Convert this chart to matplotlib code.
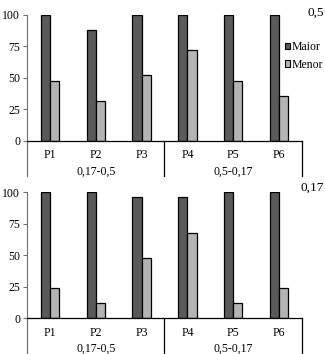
#!/usr/bin/env python3
from matplotlib import pyplot as plt
from matplotlib.patches import Patch
import numpy as np

plt.rcParams['font.family'] = ['Liberation Serif', 'DejaVu Serif']
plt.rcParams['font.size'] = 8.5

pontos = ['P1', 'P2', 'P3', 'P4', 'P5', 'P6']
grupos = ['0,17-0,5', '0,5-0,17']
series = ['Maior', 'Menor']
paineis = ['0,5', '0,17']

maior_05 = [100, 88, 100, 100, 100, 100]
menor_05 = [48, 32, 52, 72, 48, 36]
maior_017 = [100, 100, 96, 96, 100, 100]
menor_017 = [24, 12, 48, 68, 12, 24]

cores = ['#5a5a5a', '#b4b4b4']


def draw_panel(ax, maior, menor, titulo, ytit):
    x = np.arange(len(pontos))
    w = 0.2
    ax.bar(x - w / 2, maior, w, color=cores[0], edgecolor='black', linewidth=0.9)
    ax.bar(x + w / 2, menor, w, color=cores[1], edgecolor='black', linewidth=0.9)
    ax.set_xlim(-0.5, len(pontos) - 0.5)
    ax.set_ylim(0, 100)
    ax.set_yticks([0, 25, 50, 75, 100])
    ax.set_xticks(x)
    ax.set_xticklabels(pontos)
    ax.tick_params(axis='x', length=0, pad=6)
    ax.tick_params(axis='y', length=3, width=0.8, color='#707070', pad=2)
    for s in ['top', 'right']:
        ax.spines[s].set_visible(False)
    ax.spines['left'].set_color('#707070')
    ax.spines['bottom'].set_color('black')
    ax.spines['bottom'].set_linewidth(0.9)

    # group separators and group labels under the axis
    n = len(pontos) // len(grupos)
    trans = ax.get_xaxis_transform()
    for i in range(len(grupos) + 1):
        xs = i * n - 0.5
        ax.plot([xs, xs], [0, -0.28], transform=trans, clip_on=False,
                color='#707070' if i == 0 else 'black', linewidth=0.9)
    for i, g in enumerate(grupos):
        ax.text(i * n + (n - 1) / 2, -0.245, g, transform=trans,
                ha='center', va='center')
    fig.text(0.998, ytit, titulo, ha='right', va='center', fontsize=9.5)


fig = plt.figure(figsize=(3.25, 3.54), dpi=100)
ax1 = fig.add_axes([0.083, 0.6017, 0.846, 0.356])
ax2 = fig.add_axes([0.083, 0.1008, 0.846, 0.356])
draw_panel(ax1, maior_05, menor_05, paineis[0], 1 - 13 / 354)
draw_panel(ax2, maior_017, menor_017, paineis[1], 1 - 188 / 354)

handles = [Patch(facecolor=c, edgecolor='black', linewidth=0.8) for c in cores]
fig.legend(handles, series, loc='upper left', bbox_to_anchor=(0.858, 0.9),
           frameon=False, handlelength=0.45, handleheight=0.45,
           handletextpad=0.1, labelspacing=0.45, borderpad=0, fontsize=8.5)

fig.savefig('out.png', dpi=100)
